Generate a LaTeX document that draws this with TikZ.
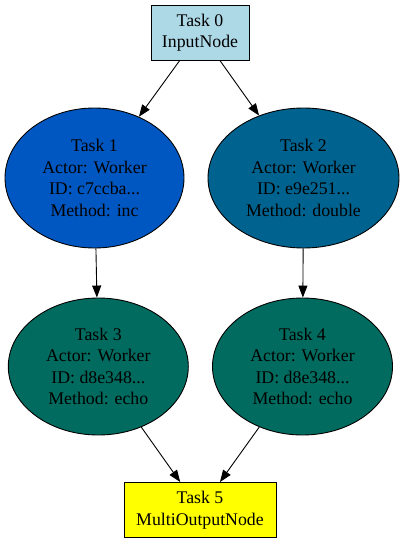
\documentclass[tikz,border=0pt]{standalone}
\usepackage{fontspec}
\setmainfont{Liberation Serif}
\usetikzlibrary{arrows.meta,shapes.geometric}
\definecolor{boxblue}{HTML}{ADD8E6}
\definecolor{taskone}{HTML}{0057C1}
\definecolor{tasktwo}{HTML}{00638F}
\definecolor{taskgreen}{HTML}{006B5E}
\definecolor{boxyellow}{HTML}{FFFF00}
\begin{document}
\begin{tikzpicture}[x=1pt,y=-1pt,
  every node/.style={font=\fontsize{17.8}{21.5}\selectfont, align=center, text=black, draw=black, line width=0.9pt, inner sep=0pt},
  rectnode/.style={rectangle},
  ellnode/.style={ellipse},
  edge/.style={draw=black, line width=0.9pt, -{Triangle[length=12pt,width=9pt]}}]
\useasboundingbox[fill=white] (0,0) rectangle (408,543);
\node[rectnode, fill=boxblue, minimum width=98pt, minimum height=55pt] (t0) at (200,32.5) {Task 0\\InputNode};
\node[ellnode, fill=taskone, minimum width=179pt, minimum height=140pt] (t1) at (94.5,178) {Task 1\\Actor: Worker\\ID: c7ccba...\\Method: inc};
\node[ellnode, fill=tasktwo, minimum width=191pt, minimum height=140pt] (t2) at (303.5,178) {Task 2\\Actor: Worker\\ID: e9e251...\\Method: double};
\node[ellnode, fill=taskgreen, minimum width=180pt, minimum height=137pt] (t3) at (98.3,366.5) {Task 3\\Actor: Worker\\ID: d8e348...\\Method: echo};
\node[ellnode, fill=taskgreen, minimum width=180pt, minimum height=137pt] (t4) at (302.5,366.5) {Task 4\\Actor: Worker\\ID: d8e348...\\Method: echo};
\node[rectnode, fill=boxyellow, minimum width=152pt, minimum height=55pt] (t5) at (200,510) {Task 5\\MultiOutputNode};
\draw[edge] (t0) -- (t1);
\draw[edge] (t0) -- (t2);
\draw[edge] (t1) -- (t3);
\draw[edge] (t2) -- (t4);
\draw[edge] (t3) -- (t5);
\draw[edge] (t4) -- (t5);
\end{tikzpicture}
\end{document}
